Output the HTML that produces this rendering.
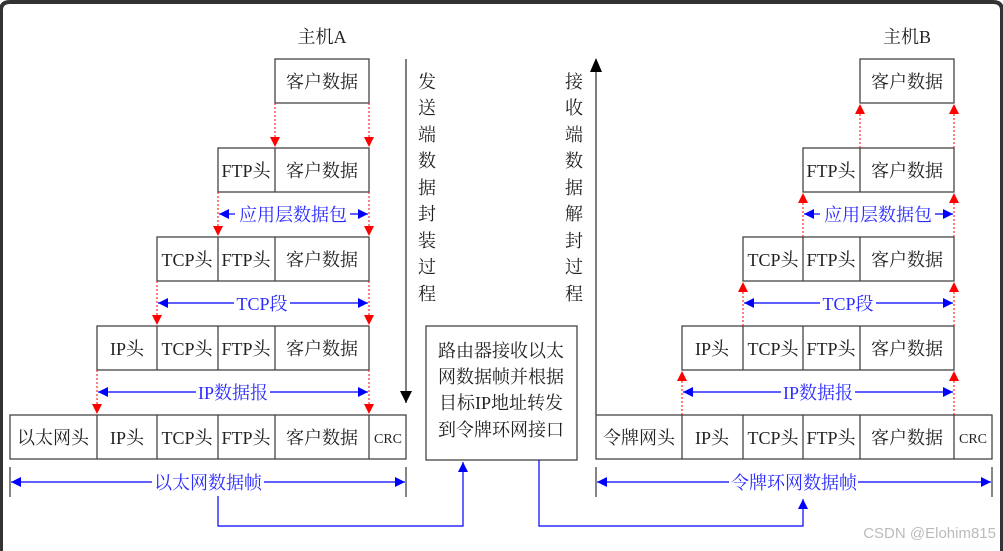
<!DOCTYPE html>
<html><head><meta charset="utf-8"><style>
html,body{margin:0;padding:0;background:#fff}
svg{display:block}
text{font-family:"Liberation Serif","Noto Serif CJK SC",serif;font-size:18px;fill:#222}
.b{fill:#2b2bff}
</style></head><body>
<svg width="1003" height="551" viewBox="0 0 1003 551" xmlns="http://www.w3.org/2000/svg">
<defs>
<marker id="rd" markerWidth="10" markerHeight="10" refX="10" refY="5" orient="auto" markerUnits="userSpaceOnUse" viewBox="0 0 10 10"><path d="M0,0 L10,5 L0,10z" fill="#f00"/></marker>
<marker id="bk" markerWidth="12" markerHeight="12" refX="6" refY="12" viewBox="0 0 12 12" markerUnits="userSpaceOnUse"><path d="M0,0 L12,0 L6,12z" fill="#000"/></marker>
<marker id="bl" markerWidth="10" markerHeight="10" refX="10" refY="5" viewBox="0 0 10 10" orient="auto" markerUnits="userSpaceOnUse"><path d="M0,0 L10,5 L0,10z" fill="#00f"/></marker>
</defs>
<rect x="0" y="0" width="1003" height="551" fill="#fff"/>
<path d="M1,551 V10 Q1,2 10,2 H993 Q1002,2 1002,10 V551" fill="none" stroke="#333" stroke-width="4"/>

<g fill="none" stroke="#444" stroke-width="1.3">
<rect x="275" y="59" width="94" height="44"/>
<rect x="218" y="148" width="151" height="44"/><line x1="275" y1="148" x2="275" y2="192"/>
<rect x="157" y="237" width="212" height="44"/><line x1="218" y1="237" x2="218" y2="281"/><line x1="275" y1="237" x2="275" y2="281"/>
<rect x="97" y="326" width="272" height="44"/><line x1="157" y1="326" x2="157" y2="370"/><line x1="218" y1="326" x2="218" y2="370"/><line x1="275" y1="326" x2="275" y2="370"/>
<rect x="10" y="415" width="396" height="44"/><line x1="97" y1="415" x2="97" y2="459"/><line x1="157" y1="415" x2="157" y2="459"/><line x1="218" y1="415" x2="218" y2="459"/><line x1="275" y1="415" x2="275" y2="459"/><line x1="369" y1="415" x2="369" y2="459"/>
<rect x="860" y="59" width="94" height="44"/>
<rect x="803" y="148" width="151" height="44"/><line x1="860" y1="148" x2="860" y2="192"/>
<rect x="743" y="237" width="211" height="44"/><line x1="803" y1="237" x2="803" y2="281"/><line x1="860" y1="237" x2="860" y2="281"/>
<rect x="682" y="326" width="272" height="44"/><line x1="743" y1="326" x2="743" y2="370"/><line x1="803" y1="326" x2="803" y2="370"/><line x1="860" y1="326" x2="860" y2="370"/>
<rect x="596" y="415" width="396" height="44"/><line x1="682" y1="415" x2="682" y2="459"/><line x1="743" y1="415" x2="743" y2="459"/><line x1="803" y1="415" x2="803" y2="459"/><line x1="860" y1="415" x2="860" y2="459"/><line x1="954" y1="415" x2="954" y2="459"/>
<rect x="426" y="326" width="151" height="134"/>
<line x1="10" y1="467" x2="10" y2="497"/><line x1="406" y1="467" x2="406" y2="497"/>
<line x1="596" y1="467" x2="596" y2="497"/><line x1="992" y1="467" x2="992" y2="497"/>
</g>

<line x1="406" y1="59" x2="406" y2="403" stroke="#555" stroke-width="1.5" marker-end="url(#bk)"/>
<line x1="596" y1="415" x2="596" y2="72" stroke="#555" stroke-width="1.5"/>
<path d="M590,72 L602,72 L596,58z" fill="#000"/>

<g stroke="#f00" stroke-width="1" stroke-dasharray="2,2" fill="none">
<line x1="275" y1="103" x2="275" y2="147" marker-end="url(#rd)"/><line x1="369" y1="103" x2="369" y2="147" marker-end="url(#rd)"/>
<line x1="218" y1="192" x2="218" y2="236" marker-end="url(#rd)"/><line x1="369" y1="192" x2="369" y2="236" marker-end="url(#rd)"/>
<line x1="157" y1="281" x2="157" y2="325" marker-end="url(#rd)"/><line x1="369" y1="281" x2="369" y2="325" marker-end="url(#rd)"/>
<line x1="97" y1="370" x2="97" y2="414" marker-end="url(#rd)"/><line x1="369" y1="370" x2="369" y2="414" marker-end="url(#rd)"/>
<line x1="860" y1="148" x2="860" y2="104" marker-end="url(#rd)"/><line x1="954" y1="148" x2="954" y2="104" marker-end="url(#rd)"/>
<line x1="803" y1="237" x2="803" y2="193" marker-end="url(#rd)"/><line x1="954" y1="237" x2="954" y2="193" marker-end="url(#rd)"/>
<line x1="743" y1="326" x2="743" y2="282" marker-end="url(#rd)"/><line x1="954" y1="326" x2="954" y2="282" marker-end="url(#rd)"/>
<line x1="682" y1="415" x2="682" y2="371" marker-end="url(#rd)"/><line x1="954" y1="415" x2="954" y2="371" marker-end="url(#rd)"/>
</g>

<g stroke="#00f" stroke-width="1.2" fill="none">
<line x1="235" y1="214" x2="219" y2="214" marker-end="url(#bl)"/><line x1="350" y1="214" x2="368" y2="214" marker-end="url(#bl)"/>
<line x1="234" y1="303" x2="158" y2="303" marker-end="url(#bl)"/><line x1="290" y1="303" x2="368" y2="303" marker-end="url(#bl)"/>
<line x1="196" y1="392" x2="98" y2="392" marker-end="url(#bl)"/><line x1="270" y1="392" x2="368" y2="392" marker-end="url(#bl)"/>
<line x1="152" y1="482" x2="11" y2="482" marker-end="url(#bl)"/><line x1="264" y1="482" x2="405" y2="482" marker-end="url(#bl)"/>
<line x1="820" y1="214" x2="804" y2="214" marker-end="url(#bl)"/><line x1="935" y1="214" x2="953" y2="214" marker-end="url(#bl)"/>
<line x1="820" y1="303" x2="744" y2="303" marker-end="url(#bl)"/><line x1="876" y1="303" x2="953" y2="303" marker-end="url(#bl)"/>
<line x1="781" y1="392" x2="683" y2="392" marker-end="url(#bl)"/><line x1="855" y1="392" x2="953" y2="392" marker-end="url(#bl)"/>
<line x1="729" y1="482" x2="597" y2="482" marker-end="url(#bl)"/><line x1="858" y1="482" x2="991" y2="482" marker-end="url(#bl)"/>
<polyline points="218,496 218,526 463,526 463,462" marker-end="url(#bl)"/>
<polyline points="539,460 539,526 803,526 803,499" marker-end="url(#bl)"/>
</g>

<text x="322" y="43" text-anchor="middle">主机A</text>
<g text-anchor="middle">
<text x="322" y="88">客户数据</text>
<text x="246" y="177">FTP头</text><text x="322" y="177">客户数据</text>
<text x="187" y="266">TCP头</text><text x="246" y="266">FTP头</text><text x="322" y="266">客户数据</text>
<text x="127" y="355">IP头</text><text x="187" y="355">TCP头</text><text x="246" y="355">FTP头</text><text x="322" y="355">客户数据</text>
<text x="53" y="444">以太网头</text><text x="127" y="444">IP头</text><text x="187" y="444">TCP头</text><text x="246" y="444">FTP头</text><text x="322" y="444">客户数据</text><text x="388" y="443" style="font-size:14px">CRC</text>
<text class="b" x="293" y="221">应用层数据包</text>
<text class="b" x="262" y="310">TCP段</text>
<text class="b" x="233" y="399">IP数据报</text>
<text class="b" x="208" y="489">以太网数据帧</text>
<text x="907" y="43">主机B</text>
<text x="907" y="88">客户数据</text>
<text x="831" y="177">FTP头</text><text x="907" y="177">客户数据</text>
<text x="773" y="266">TCP头</text><text x="831" y="266">FTP头</text><text x="907" y="266">客户数据</text>
<text x="712" y="355">IP头</text><text x="773" y="355">TCP头</text><text x="831" y="355">FTP头</text><text x="907" y="355">客户数据</text>
<text x="639" y="444">令牌网头</text><text x="712" y="444">IP头</text><text x="773" y="444">TCP头</text><text x="831" y="444">FTP头</text><text x="907" y="444">客户数据</text><text x="973" y="443" style="font-size:14px">CRC</text>
<text class="b" x="878" y="221">应用层数据包</text>
<text class="b" x="848" y="310">TCP段</text>
<text class="b" x="818" y="399">IP数据报</text>
<text class="b" x="794" y="489">令牌环网数据帧</text>
<text x="427" y="88">发</text><text x="427" y="114">送</text><text x="427" y="141">端</text><text x="427" y="167">数</text><text x="427" y="194">据</text><text x="427" y="220">封</text><text x="427" y="247">装</text><text x="427" y="273">过</text><text x="427" y="300">程</text>
<text x="574" y="88">接</text><text x="574" y="114">收</text><text x="574" y="141">端</text><text x="574" y="167">数</text><text x="574" y="194">据</text><text x="574" y="220">解</text><text x="574" y="247">封</text><text x="574" y="273">过</text><text x="574" y="300">程</text>
<text x="501" y="357">路由器接收以太</text>
<text x="501" y="383">网数据帧并根据</text>
<text x="501" y="409">目标IP地址转发</text>
<text x="501" y="436">到令牌环网接口</text>
</g>
<text x="996" y="538" text-anchor="end" style="font-family:'Liberation Sans',sans-serif;font-size:15px;fill:#bbb">CSDN @Elohim815</text>
</svg>
</body></html>
